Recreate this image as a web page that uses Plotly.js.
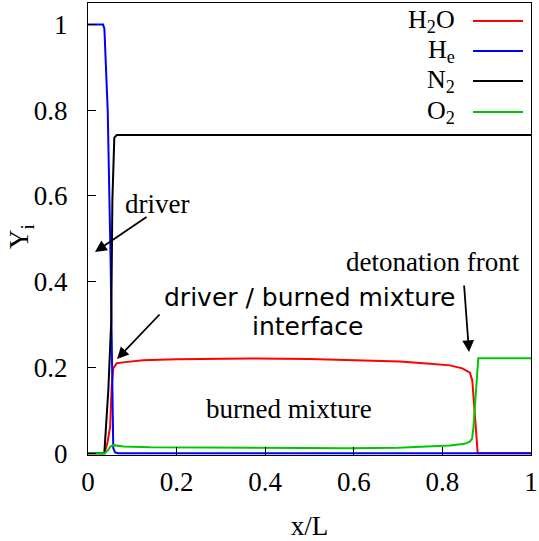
<!DOCTYPE html>
<html>
<head>
<meta charset="utf-8">
<script src="https://cdn.plot.ly/plotly-3.0.1.min.js"></script>
<style>html,body{margin:0;padding:0;background:#fff;}#chart{width:539px;height:541px;}</style>
</head>
<body>
<div id="chart"></div>
<script>
// ---- data ----
const seriesNames = ['H<sub>2</sub>O', 'H<sub>e</sub>', 'N<sub>2</sub>', 'O<sub>2</sub>'];
const seriesColors = ['#ff0000', '#0000ff', '#000000', '#00c800'];

const h2oX = [0, 0.036, 0.038, 0.044, 0.050, 0.0535, 0.057, 0.065, 0.079, 0.124, 0.2, 0.366, 0.5, 0.591, 0.704, 0.772, 0.817, 0.845, 0.862, 0.8675, 0.8797, 1.0];
const h2oY = [0, 0, 0.003, 0.025, 0.062, 0.155, 0.198, 0.21, 0.212, 0.217, 0.219, 0.221, 0.22, 0.218, 0.214, 0.209, 0.205, 0.198, 0.188, 0.17, 0, 0];

const heX = [0, 0.034, 0.037, 0.0445, 0.051, 0.057, 0.061, 0.068, 1.0];
const heY = [1.0, 1.0, 0.99, 0.8, 0.45, 0.012, 0.002, 0, 0];

const n2X = [0, 0.0368, 0.046, 0.0525, 0.055, 0.0594, 0.065, 1.0];
const n2Y = [0, 0, 0.15, 0.31, 0.59, 0.736, 0.742, 0.742];

const o2X = [0, 0.038, 0.046, 0.050, 0.057, 0.08, 0.14, 0.3, 0.591, 0.7, 0.817, 0.85, 0.862, 0.867, 0.870, 0.881, 1.0];
const o2Y = [0, 0, 0.008, 0.015, 0.019, 0.016, 0.014, 0.013, 0.012, 0.013, 0.018, 0.022, 0.027, 0.034, 0.06, 0.2215, 0.2215];

const xTicks = [0, 0.2, 0.4, 0.6, 0.8, 1];
const xTickLabels = ['0', '0.2', '0.4', '0.6', '0.8', '1'];
const yTicks = [0, 0.2, 0.4, 0.6, 0.8, 1];
const yTickLabels = ['0', '0.2', '0.4', '0.6', '0.8', '1'];

// ---- layout helpers ----
const W = 539, H = 541;
const M = {l: 88, r: 8, t: 3, b: 86};
const PW = W - M.l - M.r, PH = H - M.t - M.b;
const px = v => (v - M.l) / PW;         // pixel x -> paper
const py = v => (H - M.b - v) / PH;     // pixel y -> paper

const SERIF = "'Liberation Serif', 'Times New Roman', serif";
const SANS = "'DejaVu Sans', sans-serif";

const xs = [h2oX, heX, n2X, o2X];
const ys = [h2oY, heY, n2Y, o2Y];
const traces = xs.map((x, i) => ({
  x: x, y: ys[i], type: 'scatter', mode: 'lines', name: seriesNames[i],
  line: {color: seriesColors[i], width: 2}, showlegend: false
}));

const annotations = [];
const shapes = [];
// legend (text left, line sample right)
const legendRowsY = [21, 51, 81, 112];
seriesNames.forEach((n, i) => {
  annotations.push({xref: 'paper', yref: 'paper', x: px(457), y: py(legendRowsY[i]),
    xanchor: 'right', yanchor: 'middle', text: n, showarrow: false,
    font: {family: SERIF, size: 26, color: '#000'}});
  shapes.push({type: 'line', xref: 'paper', yref: 'paper', x0: px(473), x1: px(523),
    y0: py(legendRowsY[i]), y1: py(legendRowsY[i]), line: {color: seriesColors[i], width: 2}});
});

// text labels
const txt = (t, x, y, font, size) => annotations.push({xref: 'paper', yref: 'paper', x: px(x), y: py(y),
  xanchor: 'center', yanchor: 'middle', text: t, showarrow: false, font: {family: font, size: size, color: '#000'}});
txt('driver', 157, 204, SERIF, 27);
txt('driver / burned mixture', 309, 297, SANS, 25);
txt('interface', 308, 326, SANS, 25);
txt('detonation front', 433, 262, SERIF, 27);
txt('burned mixture', 289, 409, SERIF, 27);

// y-axis title (rotated, placed like the reference)
annotations.push({xref: 'paper', yref: 'paper', x: px(21), y: py(237), xanchor: 'center', yanchor: 'middle',
  text: 'Y<sub>i</sub>', textangle: -90, showarrow: false, font: {family: SERIF, size: 27, color: '#000'}});

// arrows (head at x,y; tail offset ax,ay in pixels)
const arrow = (hx, hy, tx, ty) => annotations.push({xref: 'paper', yref: 'paper', x: px(hx), y: py(hy),
  ax: tx - hx, ay: ty - hy, text: '', showarrow: true, arrowhead: 2, arrowsize: 1.3, arrowwidth: 1.8, arrowcolor: '#000'});
arrow(95, 252, 148, 216);
arrow(117, 359, 161, 313);
arrow(469, 352, 464, 284);

const axisCommon = {
  showline: true, mirror: true, linecolor: '#000', linewidth: 1,
  ticks: 'inside', ticklen: 8, tickwidth: 1, tickcolor: '#000',
  showgrid: false, zeroline: false,
  tickfont: {family: SERIF, size: 27, color: '#000'}
};

const layout = {
  width: W, height: H,
  margin: M,
  paper_bgcolor: '#fff', plot_bgcolor: '#fff',
  xaxis: Object.assign({}, axisCommon, {
    range: [0, 1], tickmode: 'array', tickvals: xTicks, ticktext: xTickLabels,
    ticklabelstandoff: 3,
    title: {text: 'x/L', font: {family: SERIF, size: 27, color: '#000'}, standoff: 30}
  }),
  yaxis: Object.assign({}, axisCommon, {
    range: [-0.004, 1.05], tickmode: 'array', tickvals: yTicks, ticktext: yTickLabels,
    ticklabelstandoff: 14
  }),
  annotations: annotations,
  shapes: shapes,
  showlegend: false
};

Plotly.newPlot('chart', traces, layout, {displayModeBar: false, staticPlot: true});
</script>
</body>
</html>
